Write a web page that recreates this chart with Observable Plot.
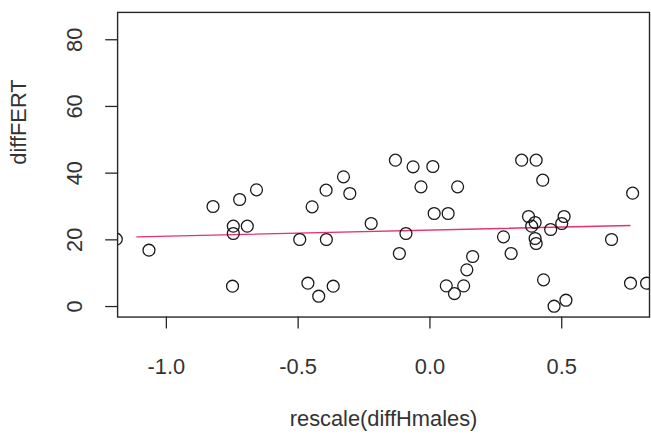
<!DOCTYPE html>
<html>
<head>
<meta charset="utf-8">
<script src="https://cdn.jsdelivr.net/npm/d3@7"></script>
<script src="https://cdn.jsdelivr.net/npm/@observablehq/plot@0.6"></script>
<style>
  html, body { margin: 0; padding: 0; background: #fff; overflow: hidden; }
  #chart { width: 651px; height: 435px; overflow: hidden; }
</style>
</head>
<body>
<div id="chart"></div>
<script>
// rescale(diffHmales) values, one per observation
const diffHmales = [
  -1.19, -1.066, -0.823, -0.722, -0.658, -0.746, -0.746, -0.693, -0.749,
  -0.494, -0.447, -0.394, -0.393, -0.328, -0.304, -0.463, -0.422, -0.367,
  -0.223, -0.131, -0.064, 0.011, -0.034, 0.105, -0.091, -0.116, 0.016,
  0.069, 0.062, 0.093, 0.128, 0.14, 0.162, 0.279, 0.308, 0.348,
  0.403, 0.428, 0.374, 0.399, 0.386, 0.399, 0.403, 0.458, 0.509,
  0.5, 0.431, 0.471, 0.516, 0.689, 0.769, 0.761, 0.822
];
// diffFERT values, same order
const diffFERT = [
  20.2, 16.9, 30.0, 32.1, 35.0, 24.1, 21.9, 24.1, 6.1,
  20.1, 29.9, 34.9, 20.1, 38.9, 33.9, 7.0, 3.1, 6.1,
  24.9, 43.9, 41.9, 42.0, 35.9, 35.9, 21.9, 15.9, 27.9,
  27.9, 6.2, 3.9, 6.2, 11.0, 15.0, 20.9, 15.9, 43.9,
  43.9, 37.9, 27.0, 25.2, 24.1, 20.4, 18.9, 23.1, 27.0,
  24.9, 8.0, 0.1, 1.9, 20.1, 34.0, 7.0, 7.0
];
// fitted line end points
const fitX = [-1.112, 0.759];
const fitY = [20.9, 24.3];

// axis ticks
const xTicks = [-1.0, -0.5, 0.0, 0.5];
const yTicks = [0, 20, 40, 60, 80];

const points = diffHmales.map((x, i) => ({x, y: diffFERT[i]}));
const fit = fitX.map((x, i) => ({x, y: fitY[i]}));

const ink = "#262626";
const font = "'Liberation Sans', Arial, Helvetica, sans-serif";

const chart = Plot.plot({
  width: 656,
  height: 435,
  marginLeft: 118,
  marginRight: 2,
  marginTop: 12,
  marginBottom: 116,
  style: {fontFamily: font, fontSize: "22px", color: ink, background: "#fff"},
  x: {domain: [-1.185, 0.833]},
  y: {domain: [-3.15, 88.2]},
  marks: [
    Plot.axisX(xTicks, {
      tickSize: 12,
      tickPadding: 30,
      strokeWidth: 1.3,
      tickFormat: d => d.toFixed(1),
      fontSize: 22,
      fill: "#333",
      label: null
    }),
    Plot.axisY(yTicks, {
      tickSize: 12,
      tickPadding: 24,
      tickRotate: -90,
      strokeWidth: 1.3,
      tickFormat: d => String(d),
      fontSize: 22,
      fill: "#333",
      label: null
    }),
    Plot.text(["rescale(diffHmales)"], {
      frameAnchor: "bottom",
      dy: 103,
      lineAnchor: "middle",
      fontSize: 22,
      fill: "#333"
    }),
    Plot.text(["diffFERT"], {
      frameAnchor: "left",
      dx: -99,
      rotate: -90,
      lineAnchor: "middle",
      fontSize: 22,
      fill: "#333"
    }),
    Plot.line(fit, {x: "x", y: "y", stroke: "#e6336a", strokeWidth: 1.4}),
    Plot.dot(points, {
      x: "x",
      y: "y",
      r: 6,
      stroke: "#1a1a1a",
      strokeWidth: 1.3,
      fill: "none",
      clip: true
    }),
    Plot.frame({stroke: ink, strokeWidth: 1.4})
  ]
});

document.getElementById("chart").appendChild(chart);
</script>
</body>
</html>
